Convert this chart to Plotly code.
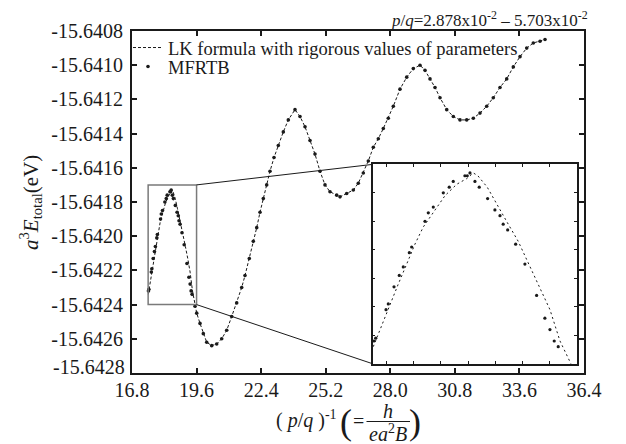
import plotly.graph_objects as go

# ---------------- data ----------------
# LK formula with rigorous values of parameters (dashed line)
lk_x = [17.506, 17.575, 17.626, 17.685, 17.763, 17.849, 17.934, 18.019, 18.139, 18.242,
        18.362, 18.465, 18.533, 18.580, 18.676, 18.773, 18.875, 18.994, 19.115, 19.217,
        19.320, 19.423, 19.526, 19.606, 19.749, 19.892, 20.039, 20.256, 20.473, 20.690,
        20.907, 21.123, 21.340, 21.557, 21.700, 21.887, 22.060, 22.208, 22.351, 22.494,
        22.641, 22.784, 22.958, 23.144, 23.361, 23.578, 23.868, 24.085, 24.302, 24.519,
        24.736, 24.952, 25.169, 25.386, 25.677, 25.820, 26.110, 26.396, 26.613, 26.830,
        27.047, 27.264, 27.481, 27.697, 27.914, 28.131, 28.421, 28.712, 28.998, 29.289,
        29.506, 29.722, 29.939, 30.156, 30.447, 30.733, 31.023, 31.314, 31.600, 31.891,
        32.181, 32.467, 32.758, 33.049, 33.335, 33.625, 33.916, 34.202, 34.493, 34.710]
lk_y = [-15.64234, -15.64228, -15.64224, -15.64219, -15.64212, -15.64205, -15.64198, -15.64192, -15.64186, -15.64181,
        -15.64177, -15.64175, -15.64173, -15.64174, -15.64178, -15.64184, -15.64190, -15.64197, -15.64206, -15.64213,
        -15.64221, -15.64232, -15.64239, -15.64245, -15.64251, -15.64257, -15.64262, -15.64264, -15.64263, -15.64260,
        -15.64255, -15.64247, -15.64239, -15.64230, -15.64223, -15.64213, -15.64203, -15.64195, -15.64186, -15.64178,
        -15.64170, -15.64162, -15.64154, -15.64147, -15.64139, -15.64132, -15.64126, -15.64130, -15.64136, -15.64144,
        -15.64152, -15.64162, -15.64170, -15.64174, -15.64176, -15.64177, -15.64175, -15.64173, -15.64169, -15.64163,
        -15.64156, -15.64148, -15.64143, -15.64137, -15.64131, -15.64124, -15.64114, -15.64107, -15.64102, -15.64100,
        -15.64103, -15.64108, -15.64113, -15.64119, -15.64126, -15.64130, -15.64132, -15.64132, -15.64131, -15.64128,
        -15.64124, -15.64119, -15.64113, -15.64108, -15.64101, -15.64095, -15.64090, -15.64087, -15.64086, -15.64085]

# MFRTB (dots)
mf_x = [17.513, 17.531, 17.637, 17.660, 17.719, 17.773, 17.814, 17.876, 17.900, 18.037,
        18.071, 18.122, 18.225, 18.286, 18.327, 18.447, 18.471, 18.499, 18.550, 18.594,
        18.680, 18.755, 18.807, 18.840, 18.886, 18.968, 19.063, 19.183, 19.268, 19.320,
        19.364, 19.405, 19.532, 19.606, 19.749, 19.892, 20.039, 20.256, 20.473, 20.690,
        20.907, 21.123, 21.340, 21.557, 21.700, 21.887, 22.060, 22.208, 22.351, 22.494,
        22.641, 22.784, 22.958, 23.144, 23.361, 23.578, 23.868, 24.085, 24.302, 24.519,
        24.736, 24.952, 25.169, 25.386, 25.677, 25.820, 26.110, 26.396, 26.613, 26.830,
        27.047, 27.264, 27.481, 27.697, 27.914, 28.131, 28.421, 28.712, 28.998, 29.289,
        29.506, 29.722, 29.939, 30.156, 30.447, 30.733, 31.023, 31.314, 31.600, 31.891,
        32.181, 32.467, 32.758, 33.049, 33.335, 33.625, 33.916, 34.202, 34.493, 34.710]
mf_y = [-15.64232, -15.64231, -15.64221, -15.64219, -15.64213, -15.64209, -15.64206, -15.64201, -15.64199, -15.64190,
        -15.64187, -15.64185, -15.64180, -15.64178, -15.64176, -15.64174, -15.64174, -15.64173, -15.64176, -15.64178,
        -15.64182, -15.64186, -15.64188, -15.64191, -15.64193, -15.64198, -15.64205, -15.64216, -15.64224, -15.64228,
        -15.64232, -15.64234, -15.64241, -15.64245, -15.64251, -15.64257, -15.64262, -15.64264, -15.64263, -15.64260,
        -15.64255, -15.64247, -15.64239, -15.64230, -15.64223, -15.64213, -15.64203, -15.64195, -15.64186, -15.64178,
        -15.64170, -15.64162, -15.64154, -15.64147, -15.64139, -15.64132, -15.64126, -15.64130, -15.64136, -15.64144,
        -15.64152, -15.64162, -15.64170, -15.64174, -15.64176, -15.64177, -15.64175, -15.64173, -15.64169, -15.64163,
        -15.64156, -15.64148, -15.64143, -15.64137, -15.64131, -15.64124, -15.64114, -15.64107, -15.64102, -15.64100,
        -15.64103, -15.64108, -15.64113, -15.64119, -15.64126, -15.64130, -15.64132, -15.64132, -15.64131, -15.64128,
        -15.64124, -15.64119, -15.64113, -15.64108, -15.64101, -15.64095, -15.64090, -15.64087, -15.64086, -15.64085]

x_ticks = [16.8, 19.6, 22.4, 25.2, 28.0, 30.8, 33.6, 36.4]
y_ticks = [-15.6408, -15.6410, -15.6412, -15.6414, -15.6416, -15.6418,
           -15.6420, -15.6422, -15.6424, -15.6426, -15.6428]
x_range = [16.8, 36.4]
y_range = [-15.6428, -15.6408]

inset_x_range = [17.5, 19.6]
inset_y_range = [-15.6424, -15.6417]
inset_x_ticks = [17.64, 17.92, 18.20, 18.48, 18.76, 19.04, 19.32]
inset_y_ticks = [-15.6418, -15.6419, -15.6420, -15.6421, -15.6422, -15.6423]

# ---------------- layout geometry ----------------
# the page body has an 8px margin, so the figure is sized to fit the 626x444 window
OFF = 8
W, H = 626 - OFF, 444 - OFF
ML, MR, MT, MB = 124, 42, 23, 71
PW, PH = W - ML - MR, H - MT - MB
X0, Y1 = OFF + ML, OFF + H - MB          # screen position of plot's left / bottom edge
inset_dom_x = [0.5325, 0.985]
inset_dom_y = [0.027, 0.610]

FONT = "Liberation Serif, Times New Roman, serif"
INK = "#1a1a1a"


def px(xs):
    return (xs - X0) / PW


def py(ys):
    return (Y1 - ys) / PH


def tfont(size):
    return dict(size=size, family=FONT, color=INK)


fig = go.Figure()

# main plot
fig.add_trace(go.Scatter(x=lk_x, y=lk_y, mode="lines", name="LK formula with rigorous values of parameters",
                         line=dict(color=INK, width=1, dash="3px,2px"), xaxis="x", yaxis="y",
                         legend="legend"))
fig.add_trace(go.Scatter(x=mf_x, y=mf_y, mode="markers", name="MFRTB",
                         marker=dict(color=INK, size=3.6), xaxis="x", yaxis="y", legend="legend2"))
# inset
fig.add_trace(go.Scatter(x=lk_x, y=lk_y, mode="lines", showlegend=False,
                         line=dict(color=INK, width=1, dash="2px,3px"), xaxis="x2", yaxis="y2"))
fig.add_trace(go.Scatter(x=mf_x, y=mf_y, mode="markers", showlegend=False,
                         marker=dict(color=INK, size=3.2), xaxis="x2", yaxis="y2"))

axis_common = dict(showgrid=False, zeroline=False, showline=True, linecolor=INK,
                   ticks="inside", mirror="ticks", tickcolor=INK)
legend_common = dict(xanchor="left", yanchor="middle", bgcolor="rgba(0,0,0,0)",
                     font=tfont(18.5), itemwidth=30)

fig.update_layout(
    width=W, height=H,
    margin=dict(l=ML, r=MR, t=MT, b=MB),
    paper_bgcolor="white", plot_bgcolor="white",
    font=tfont(18),
    xaxis=dict(range=x_range, tickvals=x_ticks, ticktext=[f"{v:.1f}" for v in x_ticks],
               linewidth=2, ticklen=5, tickwidth=1.5, tickfont=tfont(20), ticklabelstandoff=-2,
               domain=[0, 1], anchor="y", **axis_common),
    yaxis=dict(range=y_range, tickvals=y_ticks,
               ticktext=[f"{v:.4f}" if v != y_range[0] else "" for v in y_ticks],
               linewidth=2, ticklen=5, tickwidth=1.5, tickfont=tfont(20),
               ticklabelstandoff=3, domain=[0, 1], anchor="x", **axis_common),
    xaxis2=dict(range=inset_x_range, tickvals=inset_x_ticks, showticklabels=False,
                linewidth=1.5, ticklen=3, tickwidth=1, domain=inset_dom_x, anchor="y2", **axis_common),
    yaxis2=dict(range=inset_y_range, tickvals=inset_y_ticks, showticklabels=False,
                linewidth=1.5, ticklen=3, tickwidth=1, domain=inset_dom_y, anchor="x2", **axis_common),
    legend=dict(x=px(128), y=py(48), **legend_common),
    legend2=dict(x=px(128), y=py(67), **legend_common),
    showlegend=True,
)

# zoom rectangle in main plot and connecting lines to the inset
xr0, xr1 = x_range
yr0, yr1 = y_range
corner_x = xr0 + inset_dom_x[0] * (xr1 - xr0)
corner_y_top = yr0 + inset_dom_y[1] * (yr1 - yr0)
corner_y_bot = yr0 + inset_dom_y[0] * (yr1 - yr0)

shapes = [
    dict(type="rect", xref="paper", yref="paper", x0=inset_dom_x[0], x1=inset_dom_x[1],
         y0=inset_dom_y[0], y1=inset_dom_y[1], fillcolor="white", line=dict(width=0), layer="below"),
    dict(type="rect", xref="x", yref="y", x0=inset_x_range[0], x1=inset_x_range[1],
         y0=inset_y_range[0], y1=inset_y_range[1], line=dict(color="#7a7a7a", width=1.5)),
    dict(type="line", xref="x", yref="y", x0=inset_x_range[1], y0=inset_y_range[1],
         x1=corner_x, y1=corner_y_top, line=dict(color=INK, width=1)),
    dict(type="line", xref="x", yref="y", x0=inset_x_range[1], y0=inset_y_range[0],
         x1=corner_x, y1=corner_y_bot, line=dict(color=INK, width=1)),
    # fraction bar of the x-axis title
    dict(type="line", xref="paper", yref="paper", x0=px(366.5), x1=px(410), y0=py(421.5), y1=py(421.5),
         line=dict(color=INK, width=1)),
]
fig.update_layout(shapes=shapes)

ann = []
# bottom y tick label, nudged up as in the reference
ann.append(dict(text=f"{y_range[0]:.4f}", xref="paper", yref="y", x=0, y=y_range[0], xanchor="right",
                yanchor="middle", xshift=-5, yshift=6, showarrow=False, font=tfont(20)))
# top-right range label
ann.append(dict(text="<i>p</i>/<i>q</i>=2.878x10<sup>-2</sup> – 5.703x10<sup>-2</sup>",
                xref="paper", yref="paper", x=px(590), y=py(19), xanchor="right", yanchor="middle",
                showarrow=False, font=tfont(17)))
# y axis title
ann.append(dict(text="<i>a</i><sup>3</sup><i>E</i><sub>total</sub>(eV)", textangle=-90,
                xref="paper", yref="paper", x=px(30), y=py(203), xanchor="center", yanchor="middle",
                showarrow=False, font=tfont(21)))
# x axis title pieces
ann.append(dict(text="( <i>p</i>/<i>q</i> )<sup>-1</sup>", xref="paper", yref="paper",
                x=px(339), y=py(420), xanchor="right", yanchor="middle", showarrow=False,
                font=tfont(20)))
ann.append(dict(text="(", xref="paper", yref="paper", x=px(346), y=py(422), xanchor="center",
                yanchor="middle", showarrow=False, font=tfont(36)))
ann.append(dict(text="=", xref="paper", yref="paper", x=px(358), y=py(421), xanchor="center",
                yanchor="middle", showarrow=False, font=tfont(20)))
ann.append(dict(text="<i>h</i>", xref="paper", yref="paper", x=px(388), y=py(411), xanchor="center",
                yanchor="middle", showarrow=False, font=tfont(20)))
ann.append(dict(text="<i>ea</i><sup>2</sup><i>B</i>", xref="paper", yref="paper", x=px(388), y=py(433),
                xanchor="center", yanchor="middle", showarrow=False, font=tfont(20)))
ann.append(dict(text=")", xref="paper", yref="paper", x=px(415), y=py(422), xanchor="center",
                yanchor="middle", showarrow=False, font=tfont(36)))
fig.update_layout(annotations=ann)

fig.write_html("out.html")
